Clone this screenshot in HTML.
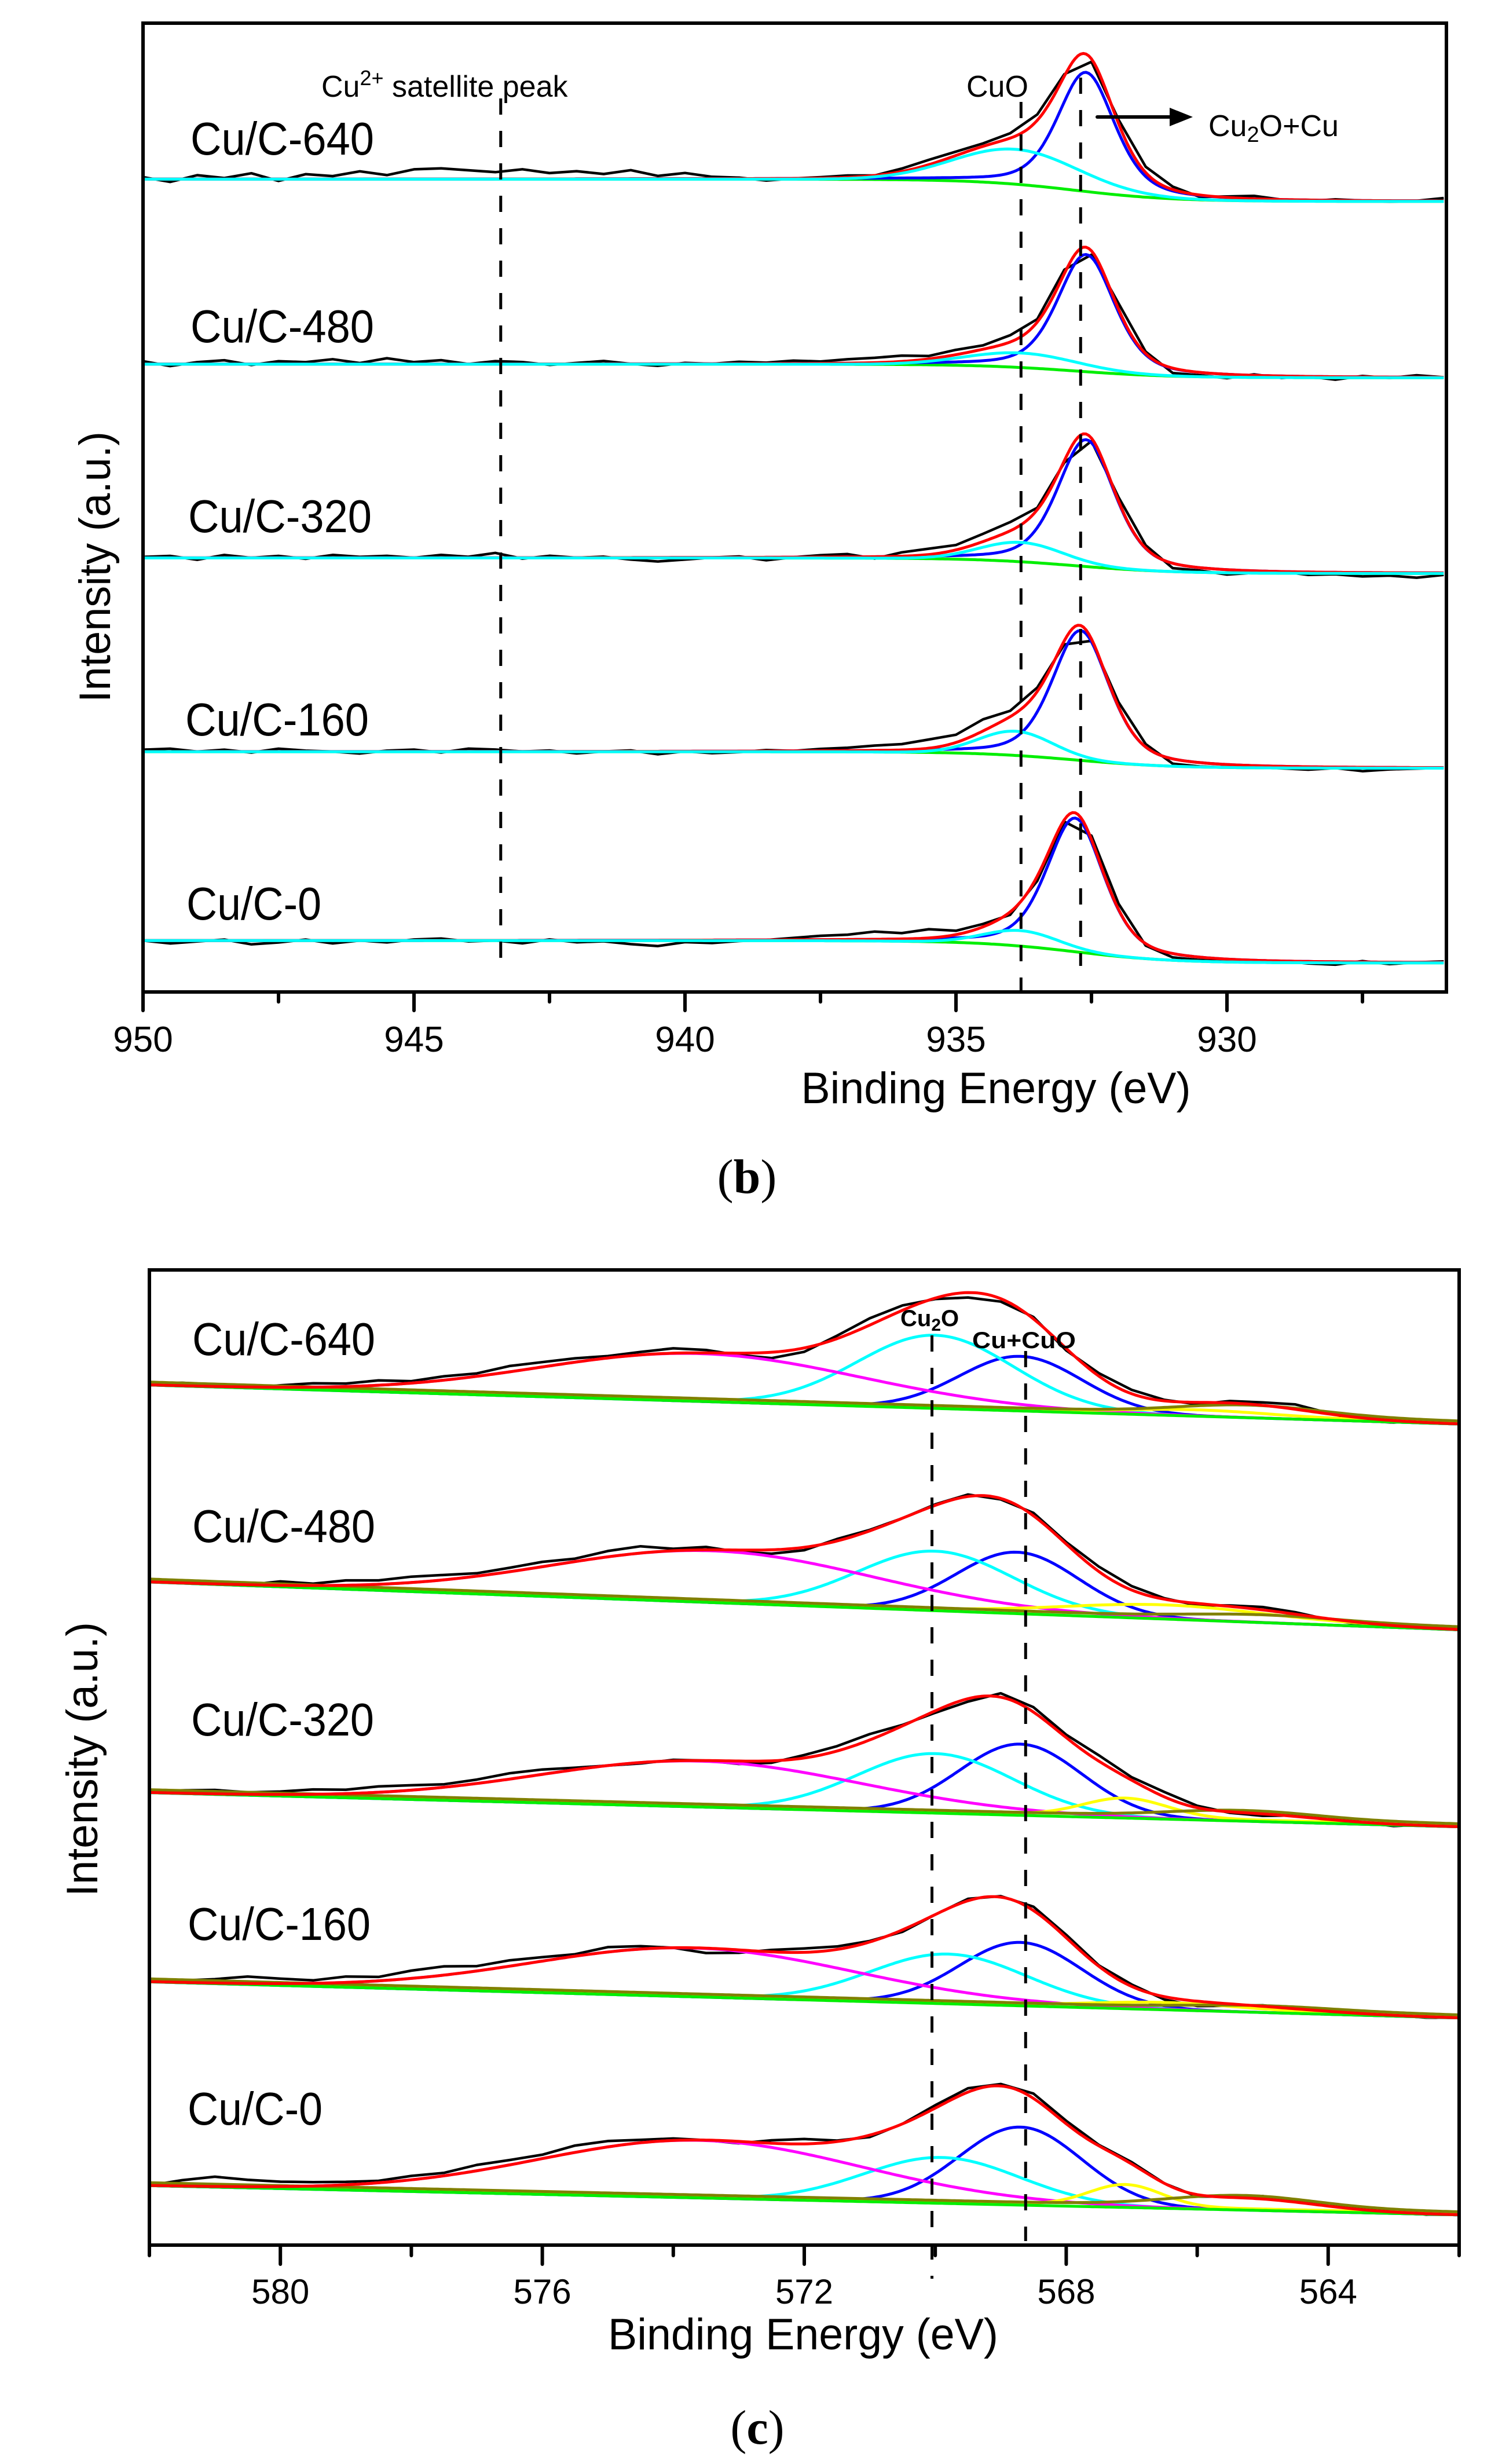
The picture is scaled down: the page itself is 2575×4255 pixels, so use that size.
<!DOCTYPE html>
<html><head><meta charset="utf-8"><title>XPS Cu 2p and Cu LMM spectra</title>
<style>
html,body{margin:0;padding:0;background:#fff;}
svg{display:block;font-family:"Liberation Sans",Arial,sans-serif;}
</style></head>
<body>
<svg id="chart" width="2575" height="4255" viewBox="0 0 2575 4255" xmlns="http://www.w3.org/2000/svg">
<defs>
<clipPath id="clipB"><rect x="247" y="40" width="2251" height="1673"/></clipPath>
<clipPath id="clipC"><rect x="258" y="2193" width="2262" height="1684"/></clipPath>
</defs>
<rect x="0" y="0" width="2575" height="4255" fill="#fff"/>
</svg>
<script>
// ---------- Panel (b): Cu 2p3/2 ----------
const bSamples = ["Cu/C-640","Cu/C-480","Cu/C-320","Cu/C-160","Cu/C-0"];
const bBgLeft = [83.9,64.8,44.8,24.8,5.3];
const bBgRight = [81.6,63.4,43.2,23.1,3.0];
const bMainCenter = [932.6,932.6,932.6,932.7,932.8];
const bMainHeight = [12.3,12.1,13.1,13.4,13.8];
const bMainFwhm = [1.25,1.25,1.25,1.25,1.25];
const bCuoCenter = [933.9,933.8,933.8,933.9,933.8];
const bCuoHeight = [3.6,1.5,2.0,2.5,1.6];
const bCuoFwhm = [2.7,2.4,1.8,1.6,1.6];
const bTicksMajor = [950,945,940,935,930];
const bTicksMinor = [947.5,942.5,937.5,932.5,927.5];
const bDashed = [943.4,933.8,932.7];
const bRes640 = [0.2,-0.3,0.4,0.1,0.6,-0.2,0.5,0.3,0.8,0.4,1.0,1.1,0.9,0.7,1.0,0.6,0.8,0.5,0.9,0.3,0.6,0.2,0.1,-0.2,0.0,0.1,0.2,0.0,0.3,0.5,0.4,0.3,0.5,0.6,0.2,-0.3,0.4,0.6,0.3,-0.2,0.1,0.3,0.0,-0.1,0.1,0.0,-0.1,0.0,0.3];
const bRes480 = [0.3,-0.2,0.2,0.4,-0.1,0.3,0.2,0.5,0.1,0.6,0.2,0.4,0.0,0.3,0.2,-0.1,0.1,0.3,0.0,-0.2,0.1,0.0,0.2,0.1,0.3,0.2,0.4,0.5,0.6,0.3,0.5,0.4,0.7,0.3,0.4,-0.4,0.6,0.2,-0.5,-0.3,-0.4,0.1,-0.2,0.0,-0.3,0.1,-0.1,0.2,0.0];
const bRes320 = [0.1,0.2,-0.2,0.3,0.0,0.2,-0.1,0.3,0.1,0.2,0.0,0.3,0.1,0.5,-0.1,0.2,0.0,0.1,-0.2,-0.4,-0.2,0.0,0.1,-0.3,0.0,0.2,0.3,-0.2,0.4,0.6,0.5,0.8,0.9,0.2,-0.2,-0.3,0.4,0.3,-0.5,-0.3,-0.5,-0.2,0.0,-0.3,-0.2,-0.4,-0.3,-0.5,-0.2];
const bRes160 = [0.2,0.3,0.0,0.2,-0.1,0.3,0.1,0.0,-0.2,0.1,0.2,-0.1,0.3,0.2,0.0,0.1,-0.2,0.0,0.1,-0.3,0.0,-0.2,-0.1,0.1,0.0,0.2,0.3,0.5,0.6,0.9,0.8,1.2,0.6,0.4,-0.4,-0.2,0.5,0.3,-0.5,-0.4,-0.3,-0.1,-0.2,-0.3,-0.1,-0.4,-0.2,-0.1,0.0];
const bRes0 = [0.0,-0.3,-0.1,0.1,-0.4,-0.2,0.1,-0.3,0.0,-0.2,0.1,0.2,-0.1,0.0,-0.3,0.1,-0.2,-0.1,-0.4,-0.6,-0.2,-0.3,-0.1,0.0,0.2,0.4,0.5,0.8,0.6,0.9,0.4,0.3,-0.3,-0.5,-0.2,0.4,0.6,-0.2,-0.4,-0.3,-0.1,-0.2,0.0,-0.2,-0.3,0.1,-0.2,0.0,0.1];
const bResiduals = [bRes640,bRes480,bRes320,bRes160,bRes0];

// ---------- Panel (c): Cu LMM ----------
const cSamples = ["Cu/C-640","Cu/C-480","Cu/C-320","Cu/C-160","Cu/C-0"];
const cBgLeft = [88.2,68.0,46.4,27.0,6.1];
const cBgRight = [84.2,63.1,42.9,23.3,3.1];
const cSatCenter = [573.6,573.4,573.6,573.7,573.6];
const cSatHeight = [4.9,5.3,4.7,5.0,5.9];
const cCu2oCenter = [570.0,570.0,570.0,569.8,569.9];
const cCu2oHeight = [7.5,6.1,6.1,5.1,4.7];
const cCuCenter = [568.7,568.75,568.7,568.7,568.7];
const cCuHeight = [5.6,6.3,7.3,6.5,8.0];
const cYelCenter = [566.0,566.5,567.1,566.5,567.1];
const cYelHeight = [0.5,1.3,1.9,0.6,2.2];
const cYelFwhm = [2.5,3.5,1.5,2.5,1.3];
const cOliCenter = [565.2,565.0,565.3,565.0,565.3];
const cOliHeight = [1.0,0.5,0.8,0.4,1.2];
const cTicksMajor = [580,576,572,568,564];
const cTicksMinor = [582,578,574,570,566,562];
const cDashed = [570.05,568.62];
const cRes640 = [0.1,0.3,0.2,-0.1,0.2,0.4,0.3,0.5,0.2,0.4,0.3,0.6,0.5,0.4,0.2,0.3,0.5,0.3,-0.2,-0.6,-0.4,0.3,0.7,0.5,-0.1,-0.5,-0.3,0.2,-0.2,0.3,0.4,0.1,-0.2,0.2,0.3,0.5,0.1,-0.3,-0.2,0.2,0.0];
const cRes480 = [0.0,0.1,0.2,0.0,0.4,0.2,0.5,0.4,0.6,0.5,0.3,0.4,0.5,0.3,0.6,0.7,0.2,0.3,-0.2,-0.4,-0.3,0.2,0.1,0.0,0.1,0.2,-0.1,0.3,0.2,0.5,0.4,0.1,-0.2,0.1,0.3,0.2,-0.1,-0.2,-0.1,0.0,0.1];
const cRes320 = [0.1,0.3,0.4,0.2,0.3,0.5,0.4,0.6,0.5,0.3,0.4,0.6,0.5,0.2,0.0,-0.1,0.1,0.0,-0.3,-0.2,0.3,0.5,0.6,0.1,-0.2,-0.3,0.4,0.5,0.3,0.6,0.3,0.5,0.2,-0.1,-0.2,0.1,0.3,0.0,-0.2,0.1,0.0];
const cRes160 = [0.0,0.2,0.4,0.7,0.5,0.3,0.6,0.4,0.8,0.9,0.5,0.6,0.4,0.2,0.5,0.3,0.0,-0.5,-0.3,0.2,0.4,0.3,0.1,-0.2,0.0,0.2,0.1,0.4,0.3,0.1,0.2,-0.3,-0.5,-0.2,0.1,0.0,-0.2,0.1,0.0,-0.1,0.0];
const cRes0 = [0.0,0.6,1.0,0.7,0.5,0.4,0.3,0.2,0.4,0.3,0.6,0.5,0.4,0.7,0.6,0.3,0.2,0.0,-0.2,0.3,0.5,0.1,-0.2,0.0,0.3,0.4,0.2,0.5,0.3,0.1,0.2,0.0,-0.2,0.1,0.3,0.2,0.0,0.2,0.1,-0.1,0.0];
const cResiduals = [cRes640,cRes480,cRes320,cRes160,cRes0];

const NS = "http://www.w3.org/2000/svg";
const svg = document.getElementById('chart');
function mk(tag, attrs, parent){
  const e = document.createElementNS(NS, tag);
  for (const k in attrs) e.setAttribute(k, attrs[k]);
  (parent||svg).appendChild(e);
  return e;
}
const L4 = 4*Math.LN2;
function gauss(E,c,h,w){ const d=(E-c)/w; return h*Math.exp(-L4*d*d); }
function pvoigt(E,c,h,w,eta){ const d=(E-c)/w; return h*((1-eta)*Math.exp(-L4*d*d)+eta/(1+4*d*d)); }

const bX = E => 247 + (950-E)*93.6;
const bY = v => 1713 - v*16.73;
const cX = E => 258 + (582-E)*113.1;
const cY = v => 3877 - v*16.84;

function pathFrom(pts){ return pts.map((p,i)=>(i?'L':'M')+p[0].toFixed(1)+' '+p[1].toFixed(1)).join(''); }
function curve(g, fn, e0, e1, xs, ys, color, w){
  const pts=[]; const step=0.05;
  for(let E=e0; E>=e1-1e-9; E-=step) pts.push([xs(E), ys(fn(E))]);
  return mk('path',{d:pathFrom(pts),fill:'none',stroke:color,'stroke-width':w,'stroke-linejoin':'round'},g);
}

// ===== Panel B =====
const gB = mk('g',{});


const plotB = mk('g',{'clip-path':'url(#clipB)'},gB);



bSamples.forEach((name,i)=>{
  const bg = E => bBgRight[i] + (bBgLeft[i]-bBgRight[i])/(1+Math.exp(-(E-932.8)/0.9));
  const main = E => pvoigt(E,bMainCenter[i],bMainHeight[i],bMainFwhm[i],0.45);
  const cuo = E => gauss(E,bCuoCenter[i],bCuoHeight[i],bCuoFwhm[i]);
  const fit = E => bg(E)+main(E)+cuo(E);
  const g = mk('g',{},plotB);
  
  
  const res = bResiduals[i];
  const pts = res.map((r,k)=>{ const E=950-0.5*k; return [bX(E), bY(fit(E)+r)]; });
  const raw = mk('path',{d:pathFrom(pts),fill:'none',stroke:'#000','stroke-width':4.5,'stroke-linejoin':'round'},g);
  
  
  const bgL = curve(g,bg,950,926,bX,bY,'#00ee00',5);
  
  
  const mainL = curve(g,E=>bg(E)+main(E),950,926,bX,bY,'#0000ff',5);
  
  
  const fitL = curve(g,fit,950,926,bX,bY,'#ff0000',5);
  
  
  const cuoL = curve(g,E=>bg(E)+cuo(E),950,926,bX,bY,'#00ffff',5);
  
  
});

const bDashY = [[170,1668],[176,1725],[134,1668]];
bDashed.forEach((E,k)=>{
  const l = mk('line',{x1:bX(E),x2:bX(E),y1:bDashY[k][0],y2:bDashY[k][1],stroke:'#000','stroke-width':5,'stroke-dasharray':'28 28'});
  
  
});

const frB = mk('rect',{x:247,y:40,width:2251,height:1673,fill:'none',stroke:'#000','stroke-width':6},gB);


bTicksMajor.forEach(E=>{
  const t = mk('line',{x1:bX(E),x2:bX(E),y1:1713,y2:1745,stroke:'#000','stroke-width':6,'stroke-linecap':'round'},gB);
  
  
  const tx = mk('text',{x:bX(E),y:1816,'font-size':62,'text-anchor':'middle'},gB);
  tx.textContent = String(E);
  
  
});
bTicksMinor.forEach(E=>{
  const t = mk('line',{x1:bX(E),x2:bX(E),y1:1713,y2:1730,stroke:'#000','stroke-width':6,'stroke-linecap':'round'},gB);
  
  
});

const bLabelY = [267,591,919,1270,1588];
const bLabelX = [329,329,325,320,322];
bSamples.forEach((name,i)=>{
  const t = mk('text',{x:bLabelX[i],y:bLabelY[i],'font-size':80,textLength:(name.length>6?317:233),lengthAdjust:'spacingAndGlyphs'},gB);
  t.textContent = name;
  
  
});
</script>
<script>
(function(){
  const t1 = mk('text',{x:555,y:167,'font-size':52});
  t1.innerHTML = 'Cu<tspan dy="-20" font-size="36">2+</tspan><tspan dy="20"> satellite peak</tspan>';
  
  
  const t2 = mk('text',{x:1669,y:167,'font-size':52});
  t2.textContent = 'CuO';
  
  
  const t3 = mk('text',{x:2087,y:235,'font-size':52});
  t3.innerHTML = 'Cu<tspan dy="10" font-size="38">2</tspan><tspan dy="-10">O+Cu</tspan>';
  
  
  const ar = mk('line',{x1:1895,y1:202,x2:2025,y2:202,stroke:'#000','stroke-width':6,'stroke-linecap':'round'});
  
  
  const ah = mk('polygon',{points:'2020,186 2060,202 2020,218',fill:'#000'});
  
  
  const xt = mk('text',{x:1720,y:1905,'font-size':76,'text-anchor':'middle',textLength:673,lengthAdjust:'spacingAndGlyphs'});
  xt.textContent = 'Binding Energy (eV)';
  
  
  const yt = mk('text',{x:0,y:0,'font-size':76,'text-anchor':'middle',textLength:468,lengthAdjust:'spacingAndGlyphs',transform:'translate(190,979) rotate(-90)'});
  yt.textContent = 'Intensity (a.u.)';
  
  
  const pb = mk('text',{x:1290,y:2060,'font-size':84,'text-anchor':'middle','font-family':'"Liberation Serif",serif'});
  pb.innerHTML = '(<tspan font-weight="bold">b</tspan>)';
  
  
})();

// ===== Panel C =====
const gC = mk('g',{});


const plotC = mk('g',{'clip-path':'url(#clipC)'},gC);



cSamples.forEach((name,i)=>{
  const bg = E => cBgRight[i] + (cBgLeft[i]-cBgRight[i])*(E-562)/20;
  const sat = E => gauss(E,cSatCenter[i],cSatHeight[i],5.8);
  const cu2o = E => gauss(E,cCu2oCenter[i],cCu2oHeight[i],2.8);
  const cu = E => gauss(E,cCuCenter[i],cCuHeight[i],2.2);
  const yel = E => gauss(E,cYelCenter[i],cYelHeight[i],cYelFwhm[i]);
  const oli = E => gauss(E,cOliCenter[i],cOliHeight[i],2.6);
  const fit = E => bg(E)+sat(E)+cu2o(E)+cu(E)+yel(E)+oli(E);
  const g = mk('g',{},plotC);
  
  
  const res = cResiduals[i];
  const pts = res.map((r,k)=>{ const E=582-0.5*k; return [cX(E), cY(fit(E)+r)]; });
  const raw = mk('path',{d:pathFrom(pts),fill:'none',stroke:'#000','stroke-width':4.5,'stroke-linejoin':'round'},g);
  
  
  const l6 = curve(g,E=>bg(E)+cu(E),582,562,cX,cY,'#0000ff',5);
  
  
  const l5 = curve(g,E=>bg(E)+cu2o(E),582,562,cX,cY,'#00ffff',5);
  
  
  const l4 = curve(g,E=>bg(E)+sat(E),582,562,cX,cY,'#ff00ff',5);
  
  
  const l3 = curve(g,E=>bg(E)+0.15+yel(E),582,562,cX,cY,'#ffff00',5);
  
  
  const l1 = curve(g,bg,582,562,cX,cY,'#00ee00',5);
  
  
  const l2 = curve(g,E=>bg(E)+0.3+oli(E),582,562,cX,cY,'#808000',5);
  
  
  const l7 = curve(g,fit,582,562,cX,cY,'#ff0000',5);
  
  
});

const cDashY = [[2306,3935],[2333,3870]];
cDashed.forEach((E,k)=>{
  const l = mk('line',{x1:cX(E),x2:cX(E),y1:cDashY[k][0],y2:cDashY[k][1],stroke:'#000','stroke-width':5,'stroke-dasharray':'28 28'});
  
  
});

const frC = mk('rect',{x:258,y:2193,width:2262,height:1684,fill:'none',stroke:'#000','stroke-width':6},gC);


cTicksMajor.forEach(E=>{
  const t = mk('line',{x1:cX(E),x2:cX(E),y1:3877,y2:3910,stroke:'#000','stroke-width':6,'stroke-linecap':'round'},gC);
  
  
  const tx = mk('text',{x:cX(E),y:3978,'font-size':60,'text-anchor':'middle'},gC);
  tx.textContent = String(E);
  
  
});
cTicksMinor.forEach(E=>{
  const t = mk('line',{x1:cX(E),x2:cX(E),y1:3877,y2:3895,stroke:'#000','stroke-width':6,'stroke-linecap':'round'},gC);
  
  
});

const cLabelY = [2340,2663,2997,3350,3669];
const cLabelX = [332,332,330,324,324];
cSamples.forEach((name,i)=>{
  const t = mk('text',{x:cLabelX[i],y:cLabelY[i],'font-size':80,textLength:(name.length>6?316:233),lengthAdjust:'spacingAndGlyphs'},gC);
  t.textContent = name;
  
  
});

(function(){
  const a1 = mk('text',{x:1555,y:2290,'font-size':40,'font-weight':'bold'});
  a1.innerHTML = 'Cu<tspan dy="8" font-size="30">2</tspan><tspan dy="-8">O</tspan>';
  
  
  const a2 = mk('text',{x:1679,y:2328,'font-size':40,'font-weight':'bold',textLength:179,lengthAdjust:'spacingAndGlyphs'});
  a2.textContent = 'Cu+CuO';
  
  
  const xt = mk('text',{x:1387,y:4057,'font-size':76,'text-anchor':'middle',textLength:674,lengthAdjust:'spacingAndGlyphs'});
  xt.textContent = 'Binding Energy (eV)';
  
  
  const yt = mk('text',{x:0,y:0,'font-size':76,'text-anchor':'middle',textLength:474,lengthAdjust:'spacingAndGlyphs',transform:'translate(168,3038) rotate(-90)'});
  yt.textContent = 'Intensity (a.u.)';
  
  
  const pc = mk('text',{x:1308,y:4220,'font-size':84,'text-anchor':'middle','font-family':'"Liberation Serif",serif'});
  pc.innerHTML = '(<tspan font-weight="bold">c</tspan>)';
  
  
})();
</script>
</body></html>
